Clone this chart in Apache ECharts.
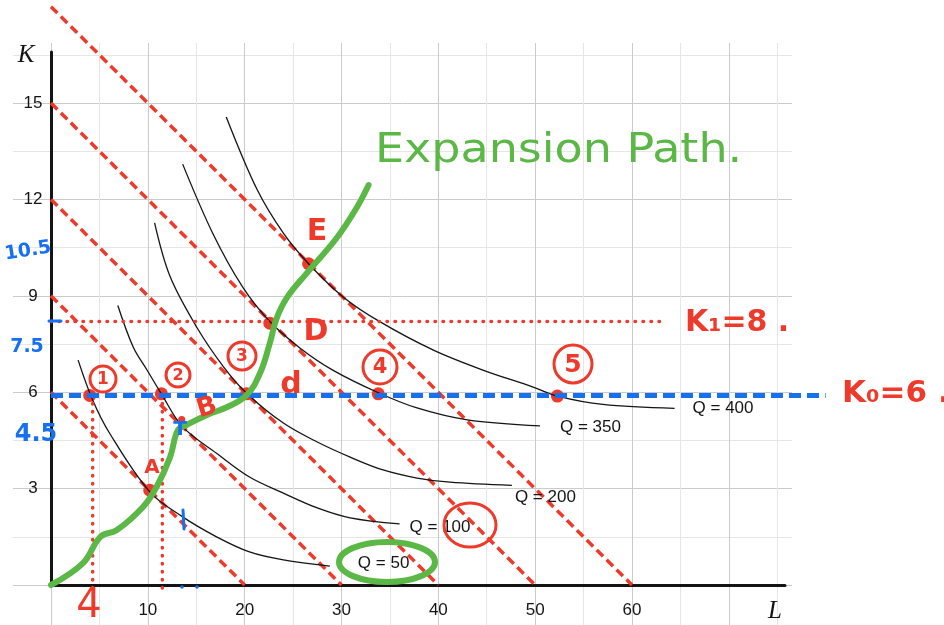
<!DOCTYPE html>
<html>
<head>
<meta charset="utf-8">
<script src="https://cdn.jsdelivr.net/npm/echarts@6/dist/echarts.min.js"></script>
<style>
  html, body { margin: 0; padding: 0; background: #fff; }
  #chart { width: 944px; height: 625px; }
</style>
</head>
<body>
<div id="chart"></div>
<script>
// grid / tick values
const lMajor = [0, 10, 20, 30, 40, 50, 60, 70];
const lMinor = [5, 15, 25, 35, 45, 55, 65, 75];
const kMajor = [0, 3, 6, 9, 12, 15];
const kMinor = [1.5, 4.5, 7.5, 10.5, 13.5, 16.5];
const lLabels = [10, 20, 30, 40, 50, 60];
const kLabels = [3, 6, 9, 12, 15];

// isocost lines: K intercept -> L intercept
const isocostK = [6, 9, 12, 15, 18];
const isocostL = [20, 30, 40, 50, 60];

// isoquants [L, K]
const qNames = ['Q = 50', 'Q = 100', 'Q = 200', 'Q = 350', 'Q = 400'];
const q50 = [[2.8, 7.0], [4.3, 5.76], [6.1, 4.7], [10.2, 2.9], [13.6, 2.12], [17.1, 1.5], [20.5, 1.03], [24.0, 0.78], [28.8, 0.59]];
const q100 = [[6.9, 8.7], [8.5, 7.4], [9.9, 6.7], [11.4, 5.95], [13.6, 4.92], [17.1, 4.1], [20.5, 3.36], [24.0, 2.86], [27.5, 2.4], [30.9, 2.09], [36.0, 1.9]];
const q200 = [[10.7, 11.27], [12.3, 9.6], [15.1, 8.0], [17.8, 6.8], [20.2, 5.97], [24.0, 5.04], [27.5, 4.45], [30.9, 3.98], [34.3, 3.58], [37.8, 3.33], [41.2, 3.2], [47.6, 3.1]];
const q350 = [[13.6, 13.1], [16.7, 10.95], [19.8, 9.27], [22.6, 8.2], [25.7, 7.38], [29.1, 6.69], [33.7, 6.0], [37.8, 5.51], [43.0, 5.14], [50.5, 4.95]];
const q400 = [[18.1, 14.57], [21.3, 12.3], [24.0, 10.95], [26.6, 10.0], [30.2, 8.96], [34.0, 8.19], [39.5, 7.31], [44.6, 6.69], [49.8, 6.16], [52.3, 5.88], [57.0, 5.62], [64.4, 5.5]];
const isoquants = [q50, q100, q200, q350, q400];

// expansion path
const pathL = [0, 3.3, 5.1, 6.8, 9.5, 10.9, 12.3, 13.1, 14.0, 16.1, 18.2, 20.2, 21.6, 22.6, 23.3, 24.4, 26.4, 29.5, 31.6, 32.8];
const pathK = [0, 0.68, 1.5, 1.71, 2.43, 3.05, 3.98, 4.82, 4.98, 5.29, 5.54, 5.91, 6.6, 7.53, 8.3, 8.96, 9.7, 10.8, 11.76, 12.45];

// marked points: 1..5, A, D, E, small dot
const dotL = [4.0, 11.4, 20.2, 33.8, 52.3, 10.2, 22.6, 26.6, 13.5];
const dotK = [5.9, 5.95, 5.95, 5.95, 5.88, 2.95, 8.15, 10.0, 5.15];

// fixed capital levels and drop lines
const k0 = 5.9, k0End = 80;
const k1 = 8.2, k1End = 63.2;
const dropL = [4.3, 11.5];
const dropTop = 5.9, dropBottom = -0.3;

const red = '#ee3a2b', blue = '#1670f0', green = '#5bb846', ink = '#141414';
const hand = '"DejaVu Sans", sans-serif';

const chart = echarts.init(document.getElementById('chart'));

function bgAxis(values, color, min, max) {
  return {
    type: 'value', gridIndex: 0, min, max,
    axisLine: { show: false }, axisLabel: { show: false },
    axisTick: { show: false, customValues: values },
    splitLine: { show: true, lineStyle: { color, width: 1 } }
  };
}
function hiddenAxis(gridIndex, min, max) {
  return { type: 'value', gridIndex, min, max, show: false, splitLine: { show: false } };
}

// every data series sits in grid 2 (same scale as the axes, wider to the right)
const on = { xAxisIndex: 3, yAxisIndex: 3, symbol: 'none', clip: false, silent: true };
const series = [];

isocostK.forEach((k, i) => {
  series.push(Object.assign({
    type: 'line', data: [[0, k], [isocostL[i], 0]],
    lineStyle: { color: red, width: 3.5, type: [9, 5] }
  }, on));
});

const labelOffsets = [[28, -3], [10, 3], [3, 12], [20, 1], [18, 0]];
isoquants.forEach((pts, i) => {
  series.push(Object.assign({
    type: 'line', name: qNames[i], smooth: 0.35, data: pts,
    lineStyle: { color: ink, width: 1.3 },
    endLabel: {
      show: true, formatter: qNames[i], distance: 0, offset: labelOffsets[i],
      color: ink, fontSize: 17, fontFamily: '"Liberation Sans", Arial, sans-serif'
    }
  }, on));
});

series.push(Object.assign({
  type: 'line', data: [[0, k1], [k1End, k1]],
  lineStyle: { color: red, width: 3.5, type: [0.5, 7.5], cap: 'round' }
}, on));
dropL.forEach(l => {
  series.push(Object.assign({
    type: 'line', data: [[l, dropTop], [l, dropBottom]],
    lineStyle: { color: red, width: 3.5, type: [0.5, 7.5], cap: 'round' }
  }, on));
});
series.push(Object.assign({
  type: 'line', data: [[0, k0], [k0End, k0]],
  lineStyle: { color: blue, width: 5, type: [12, 6] }
}, on));
series.push(Object.assign({
  type: 'line', smooth: 0.4, data: pathL.map((l, i) => [l, pathK[i]]),
  lineStyle: { color: green, width: 6, cap: 'round', join: 'round' }
}, on));
series.push({
  type: 'scatter', xAxisIndex: 3, yAxisIndex: 3, clip: false, silent: true,
  data: dotL.map((l, i) => [l, dotK[i]]),
  symbolSize: (v, p) => (p.dataIndex === 8 ? 7 : 13),
  itemStyle: { color: red, opacity: 1 }
});

function txt(x, y, text, fill, size, o = {}) {
  return {
    type: 'text', x, y, z: 100, rotation: o.rot || 0, scaleX: o.sx || 1,
    style: {
      text, fill, font: `${o.weight || 'normal'} ${size}px ${o.family || hand}`,
      align: o.align || 'center', verticalAlign: 'middle'
    }
  };
}
function ring(cx, cy, r, digit, size) {
  return [
    { type: 'circle', z: 100, shape: { cx, cy, r }, style: { fill: 'none', stroke: red, lineWidth: 3 } },
    txt(cx, cy + 1, digit, red, size, { weight: 'bold' })
  ];
}
function stroke(x1, y1, x2, y2, color, w) {
  return { type: 'line', z: 100, shape: { x1, y1, x2, y2 }, style: { stroke: color, lineWidth: w, lineCap: 'round' } };
}

const serif = '"Liberation Serif", "DejaVu Serif", serif';
const graphic = [
  txt(26, 55, 'K', ink, 25, { weight: 'italic', family: serif }),
  txt(775, 611, 'L', ink, 25, { weight: 'italic', family: serif }),
  txt(375, 152, 'Expansion Path.', green, 40, { align: 'left', sx: 1.15 }),
  txt(317, 232, 'E', red, 30, { weight: 'bold' }),
  txt(316, 332, 'D', red, 30, { weight: 'bold' }),
  txt(291, 385, 'd', red, 30, { weight: 'bold' }),
  txt(152, 468, 'A', red, 20, { weight: 'bold' }),
  txt(207, 408, 'B', red, 26, { rot: 0.3, weight: 'bold' }),
  ...ring(103, 379, 13, '1', 17),
  ...ring(178, 375, 12, '2', 16),
  ...ring(242, 356, 14, '3', 17),
  ...ring(380, 367, 17, '4', 21),
  ...ring(573, 364, 19, '5', 25),
  txt(685, 323, 'K\u2081=8 .', red, 30, { align: 'left', weight: 'bold' }),
  txt(842, 394, 'K\u2080=6 .', red, 31, { align: 'left', weight: 'bold' }),
  txt(28, 251, '10.5', blue, 19, { rot: 0.15, weight: 'bold' }),
  txt(27, 347, '7.5', blue, 19, { weight: 'bold' }),
  txt(36, 435, '4.5', blue, 24, { weight: 'bold' }),
  txt(180, 430, 'T', blue, 20, { weight: 'bold' }),
  stroke(183, 510, 184, 529, blue, 3),
  stroke(49, 321, 61, 321, blue, 3),
  txt(89, 607, '4', red, 40),
  { type: 'circle', z: 100, shape: { cx: 182, cy: 587, r: 1.8 }, style: { fill: blue } },
  { type: 'circle', z: 100, shape: { cx: 197, cy: 587, r: 1.8 }, style: { fill: blue } },
  { type: 'ellipse', z: 100, shape: { cx: 470, cy: 525, rx: 26, ry: 22 }, style: { fill: 'none', stroke: red, lineWidth: 3 } },
  { type: 'ellipse', z: 100, shape: { cx: 387, cy: 562, rx: 48, ry: 20 }, style: { fill: 'none', stroke: green, lineWidth: 6 } }
];

const labelFont = '"Liberation Sans", Arial, sans-serif';
chart.setOption({
  animation: false,
  backgroundColor: '#fff',
  grid: [
    { left: 13, top: 43, width: 779, height: 582 },
    { left: 51, top: 52, width: 734, height: 533 },
    { left: 51, top: 52, width: 790, height: 533 }
  ],
  xAxis: [
    bgAxis(lMajor, '#cbcbcb', -3.924, 76.53),
    bgAxis(lMinor, '#e6e6e6', -3.924, 76.53),
    {
      type: 'value', gridIndex: 1, min: 0, max: 75.8,
      axisLine: { show: true, onZero: false, lineStyle: { color: ink, width: 3 } },
      axisTick: { show: false },
      splitLine: { show: false },
      axisLabel: { customValues: lLabels, margin: 17, color: ink, fontSize: 17, fontFamily: labelFont }
    },
    hiddenAxis(2, 0, 81.59)
  ],
  yAxis: [
    bgAxis(kMajor, '#cbcbcb', -1.245, 16.87),
    bgAxis(kMinor, '#e6e6e6', -1.245, 16.87),
    {
      type: 'value', gridIndex: 1, min: 0, max: 16.59,
      axisLine: { show: true, onZero: false, lineStyle: { color: ink, width: 3 } },
      axisTick: { show: false },
      splitLine: { show: false },
      axisLabel: { customValues: kLabels, margin: 18, align: 'center', color: ink, fontSize: 17, fontFamily: labelFont }
    },
    hiddenAxis(2, 0, 16.59)
  ],
  series,
  graphic
});
</script>
</body>
</html>
